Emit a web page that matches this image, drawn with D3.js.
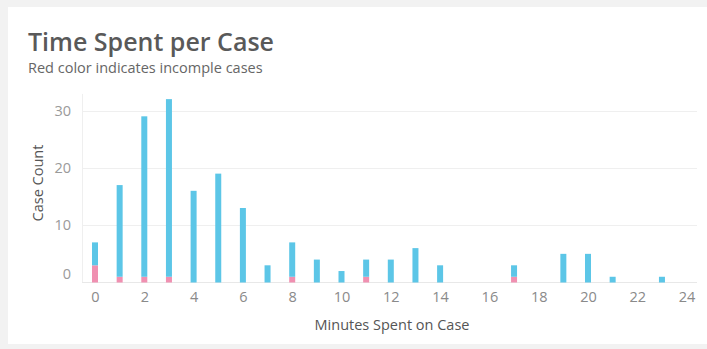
<!DOCTYPE html>
<html>
<head>
<meta charset="utf-8">
<script src="https://cdn.jsdelivr.net/npm/d3@7"></script>
<style>
  html, body { margin: 0; padding: 0; background: #f2f2f2; }
  svg { display: block; }
</style>
</head>
<body>
<svg id="chart" width="707" height="349"></svg>
<script>
// Minutes spent per case (0..24) and case counts
const minutes = d3.range(0, 25);
const totalCases = [7, 17, 29, 32, 16, 19, 13, 3, 7, 4, 2, 4, 4, 6, 3, 0, 0, 3, 0, 5, 5, 1, 0, 1, 0];
const incompleteCases = [3, 1, 1, 1, 0, 0, 0, 0, 1, 0, 0, 1, 0, 0, 0, 0, 0, 1, 0, 0, 0, 0, 0, 0, 0];
const xTicks = [0, 2, 4, 6, 8, 10, 12, 14, 16, 18, 20, 22, 24];
const yTicks = [0, 10, 20, 30];

const colors = { complete: "#5cc6e7", incomplete: "#f090b1" };

const svg = d3.select("#chart");

// white card
svg.append("rect")
  .attr("x", 8).attr("y", 7).attr("width", 699).attr("height", 337)
  .attr("fill", "#ffffff");

// titles
svg.append("text")
  .attr("x", 28).attr("y", 50.5)
  .attr("font-family", "Open Sans")
  .attr("font-weight", 600)
  .attr("font-size", 25)
  .attr("fill", "#595959")
  .text("Time Spent per Case");

svg.append("text")
  .attr("x", 28).attr("y", 73)
  .attr("font-family", "Open Sans")
  .attr("font-size", 14.5)
  .attr("fill", "#666666")
  .text("Red color indicates incomple cases");

const x = d3.scaleLinear().domain([0, 24]).range([95, 686.6]);
const y = d3.scaleLinear().domain([0, 33]).range([282.5, 93.4]);
const plotLeft = 82, plotRight = 697;

// gridlines
svg.append("g")
  .selectAll("line")
  .data(yTicks.filter(d => d > 0))
  .join("line")
  .attr("x1", plotLeft).attr("x2", plotRight)
  .attr("y1", d => Math.round(y(d)) + 0.5).attr("y2", d => Math.round(y(d)) + 0.5)
  .attr("stroke", "#efefef").attr("stroke-width", 1);

// y axis
const yAxis = svg.append("g")
  .attr("transform", `translate(${plotLeft},0)`)
  .call(d3.axisLeft(y).tickValues(yTicks).tickSize(0).tickPadding(11));
yAxis.select(".domain").attr("stroke", "#efefef");
yAxis.selectAll(".tick text")
  .attr("font-family", "Open Sans")
  .attr("font-size", 14.5)
  .attr("fill", "#9a9a9a")
  .attr("dy", d => d === 0 ? "-0.3em" : "0.32em");

// x axis
const xAxis = svg.append("g")
  .attr("transform", `translate(0,${y(0)})`)
  .call(d3.axisBottom(x).tickValues(xTicks).tickSize(0).tickPadding(9));
xAxis.select(".domain").attr("stroke", "#e8e8e8").attr("d", `M${plotLeft},0H${plotRight}`);
xAxis.selectAll(".tick text")
  .attr("font-family", "Open Sans")
  .attr("font-size", 14.5)
  .attr("fill", "#8a8a8a");

// stacked bars
const rows = minutes.map((m, i) => ({
  minute: m,
  incomplete: incompleteCases[i],
  complete: totalCases[i] - incompleteCases[i]
}));
const stack = d3.stack().keys(["incomplete", "complete"])(rows);
const barW = 6;

svg.append("g")
  .selectAll("g")
  .data(stack)
  .join("g")
  .attr("fill", s => colors[s.key])
  .selectAll("rect")
  .data(s => s.filter(d => d[1] > d[0]))
  .join("rect")
  .attr("x", d => x(d.data.minute) - barW / 2)
  .attr("width", barW)
  .attr("y", d => y(d[1]))
  .attr("height", d => y(d[0]) - y(d[1]));

// axis titles
svg.append("text")
  .attr("transform", `translate(43,183) rotate(-90)`)
  .attr("text-anchor", "middle")
  .attr("font-family", "Open Sans")
  .attr("font-size", 14.5)
  .attr("fill", "#555555")
  .text("Case Count");

svg.append("text")
  .attr("x", 392).attr("y", 330)
  .attr("text-anchor", "middle")
  .attr("font-family", "Open Sans")
  .attr("font-size", 14.5)
  .attr("fill", "#555555")
  .text("Minutes Spent on Case");
</script>
</body>
</html>
